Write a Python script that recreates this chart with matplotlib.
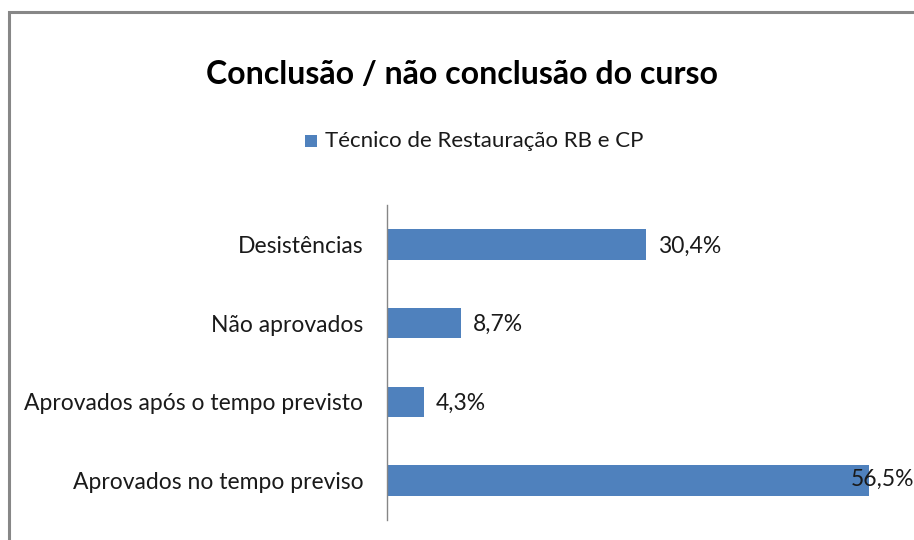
import matplotlib.pyplot as plt
from matplotlib.patches import Rectangle

# chart data (bottom to top as drawn)
categories = ['Aprovados no tempo previso', 'Aprovados após o tempo previsto',
              'Não aprovados', 'Desistências']
values = [56.5, 4.3, 8.7, 30.4]
value_labels = ['56,5%', '4,3%', '8,7%', '30,4%']
series_name = 'Técnico de Restauração RB e CP'

plt.rcParams['font.family'] = ['Lato', 'DejaVu Sans']

W, H = 914, 540
fig = plt.figure(figsize=(W / 100, H / 100), dpi=100)

# outer chart frame (cut off on the right and bottom like the original)
fig.patches.append(Rectangle((9 / W, -0.1), 1.2, 1.1 - 12 / H, transform=fig.transFigure,
                             fill=False, edgecolor='#878787', linewidth=2.2, clip_on=False))

# axes placed in pixel terms
left, right, top, bottom = 387, 899, 205, 520
ax = fig.add_axes([left / W, 1 - bottom / H, (right - left) / W, (bottom - top) / H])

color = '#4F81BD'
txt = '#1a1a1a'
fs = 16.5
ypos = range(len(categories))
ax.barh(ypos, values, height=0.39, color=color)
ax.set_xlim(0, 60)
ax.set_ylim(-0.5, len(categories) - 0.5)
ax.set_yticks(list(ypos))
ax.set_yticklabels(categories, fontsize=fs, color=txt)
ax.tick_params(axis='y', length=0, pad=17)
ax.set_xticks([])
for s in ['top', 'right', 'bottom']:
    ax.spines[s].set_visible(False)
ax.spines['left'].set_color('#868686')
ax.spines['left'].set_linewidth(1)

for y, v, lab in zip(ypos, values, value_labels):
    if v > 50:
        # no room outside the bar: the label is pulled back over the bar end
        ax.text(v - 2.2, y + 0.01, lab, va='center', ha='left', fontsize=fs, color=txt)
    else:
        ax.text(v + 1.4, y - 0.02, lab, va='center', ha='left', fontsize=fs, color=txt)

fig.text(462 / W, 1 - 74 / H, 'Conclusão / não conclusão do curso', ha='center', va='center',
         fontsize=23, fontweight='bold', color='black')

# legend: square marker + series name
fig.patches.append(Rectangle((305 / W, 1 - 147 / H), 12 / W, 12 / H, transform=fig.transFigure,
                             facecolor=color, edgecolor='none'))
fig.text(325 / W, 1 - 141 / H, series_name, ha='left', va='center', fontsize=16, color=txt)

fig.savefig('out.png', dpi=100)
